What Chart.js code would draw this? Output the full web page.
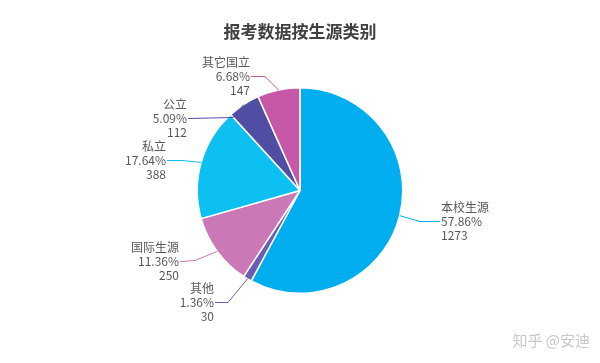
<!DOCTYPE html>
<html lang="zh">
<head>
    <meta charset="UTF-8">
    <title>报考数据按生源类别</title>
    <script src="https://cdn.jsdelivr.net/npm/chart.js"></script>
</head>
<body style="margin: 0; background: #fff;">
    <div style="width: 600px; height: 363px; position: relative;">
        <canvas id="pieChart" width="600" height="363"></canvas>
    </div>
    <script>
        const categories = ['本校生源', '其他', '国际生源', '私立', '公立', '其它国立'];
        const counts = [1273, 30, 250, 388, 112, 147];
        const colors = ['#00aeef', '#6b5cb5', '#cb79b6', '#0cc0f2', '#4f4ea3', '#c758a8'];

        // label placement, offsets from pie centre: elbow of leader line, end of line
        const labelLayout = [
            { elbow: [120, 31], end: [140, 31], align: 'left' },
            { elbow: [-72, 112], end: [-85, 112], align: 'right' },
            { elbow: [-105, 70], end: [-120, 71], align: 'right' },
            { elbow: [-118, -30], end: [-133, -30], align: 'right' },
            { elbow: [-67, -73], end: [-112, -72], align: 'right' },
            { elbow: [-35, -114], end: [-49, -114], align: 'right' }
        ];

        const total = counts.reduce((a, b) => a + b, 0);

        const leaderLabels = {
            id: 'leaderLabels',
            afterDatasetsDraw(chart) {
                const ctx = chart.ctx;
                const meta = chart.getDatasetMeta(0);
                meta.data.forEach((arc, i) => {
                    const mid = (arc.startAngle + arc.endAngle) / 2;
                    const cx = arc.x, cy = arc.y, r = arc.outerRadius;
                    const sx = cx + Math.cos(mid) * r;
                    const sy = cy + Math.sin(mid) * r;
                    const lay = labelLayout[i];
                    const ex = cx + lay.elbow[0], ey = cy + lay.elbow[1];
                    const tx = cx + lay.end[0], ty = cy + lay.end[1];
                    ctx.save();
                    ctx.strokeStyle = colors[i];
                    ctx.lineWidth = 1;
                    ctx.beginPath();
                    ctx.moveTo(sx, sy);
                    ctx.lineTo(ex, ey);
                    ctx.lineTo(tx, ty);
                    ctx.stroke();

                    ctx.fillStyle = '#595959';
                    ctx.font = '12px "Noto Sans CJK SC", "Noto Sans", sans-serif';
                    ctx.textBaseline = 'middle';
                    ctx.textAlign = lay.align;
                    const x = lay.align === 'left' ? tx + 1 : tx - 1;
                    const pct = (counts[i] / total * 100).toFixed(2) + '%';
                    ctx.fillText(categories[i], x, ty - 14.5);
                    ctx.fillText(pct, x, ty);
                    ctx.fillText(String(counts[i]), x, ty + 13.5);
                    ctx.restore();
                });

                // watermark
                ctx.save();
                ctx.fillStyle = '#c8c8c8';
                ctx.font = '15px "Noto Sans CJK SC", sans-serif';
                ctx.textAlign = 'right';
                ctx.textBaseline = 'middle';
                ctx.fillText('知乎 @安迪', 590, 340);
                ctx.restore();
            }
        };

        const ctx = document.getElementById('pieChart').getContext('2d');
        new Chart(ctx, {
            type: 'pie',
            data: {
                labels: categories,
                datasets: [{
                    data: counts,
                    backgroundColor: colors,
                    borderColor: '#ffffff',
                    borderWidth: 1.5
                }]
            },
            options: {
                responsive: false,
                animation: false,
                layout: {
                    padding: { top: 0, bottom: 69, left: 0, right: 0 }
                },
                plugins: {
                    legend: { display: false },
                    tooltip: { enabled: false },
                    title: {
                        display: true,
                        text: '报考数据按生源类别',
                        color: '#404040',
                        font: { size: 17, weight: 'bold', family: '"Noto Sans CJK SC", sans-serif', lineHeight: 1.2 },
                        padding: { top: 21, bottom: 45.6 }
                    }
                }
            },
            plugins: [leaderLabels]
        });
    </script>
</body>
</html>
